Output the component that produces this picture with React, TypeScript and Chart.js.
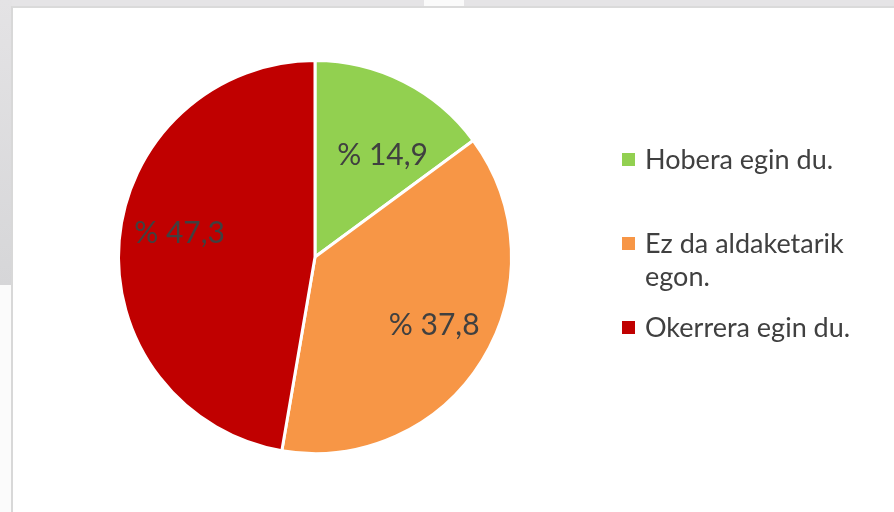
import React, { useEffect, useRef } from "react";
import { Chart, registerables } from "chart.js";

Chart.register(...registerables);

const categories = ["Hobera egin du.", "Ez da aldaketarik egon.", "Okerrera egin du."];
const legendLines = [["Hobera egin du."], ["Ez da aldaketarik", "egon."], ["Okerrera egin du."]];
const values = [14.9, 37.8, 47.3];
const valueLabels = ["% 14,9", "% 37,8", "% 47,3"];
const colors = ["#92d050", "#f79646", "#c00000"];

const FONT = "Lato, 'Open Sans', sans-serif";
const labelRadius = [0.62, 0.7, 0.7];
const labelAngleShift = [0.12, -0.03, 0.09];

const labelPlugin = {
  id: "sliceLabels",
  afterDatasetsDraw(chart: any) {
    const ctx = chart.ctx;
    const meta = chart.getDatasetMeta(0);
    ctx.save();
    ctx.font = `30px ${FONT}`;
    ctx.fillStyle = "#404040";
    ctx.textAlign = "center";
    ctx.textBaseline = "middle";
    meta.data.forEach((arc: any, i: number) => {
      const p = arc.getProps(["x", "y", "startAngle", "endAngle", "outerRadius"], true);
      const mid = (p.startAngle + p.endAngle) / 2 + labelAngleShift[i];
      const r = p.outerRadius * labelRadius[i];
      ctx.fillText(valueLabels[i], p.x + Math.cos(mid) * r, p.y + Math.sin(mid) * r);
    });
    ctx.restore();
  },
};

export default function App() {
  const ref = useRef<HTMLCanvasElement>(null);
  useEffect(() => {
    document.body.style.margin = "0";
    const chart = new Chart(ref.current!, {
      type: "pie",
      data: {
        labels: categories,
        datasets: [
          {
            data: values,
            backgroundColor: colors,
            borderColor: "#ffffff",
            borderWidth: 3,
          },
        ],
      },
      options: {
        responsive: false,
        animation: false,
        layout: { padding: { left: 117, top: 59, right: 381, bottom: 57 } },
        plugins: { legend: { display: false }, tooltip: { enabled: false } },
      },
      plugins: [labelPlugin],
    });
    return () => chart.destroy();
  }, []);

  return (
    <div style={{ position: "fixed", left: 0, top: 0, width: 894, height: 512, background: "#e5e4e6", overflow: "hidden", fontFamily: FONT }}>
      <div style={{ position: "absolute", left: 0, top: 0, width: 12, height: 285, background: "linear-gradient(#e4e3e5, #d6d6d8)" }} />
      <div style={{ position: "absolute", left: 0, top: 285, width: 12, height: 227, background: "#fbfbfb" }} />
      <div style={{ position: "absolute", left: 424, top: 0, width: 40, height: 6, background: "#fafafa" }} />
      <div style={{ position: "absolute", left: 11, top: 6, width: 883, height: 506, background: "#ffffff", borderLeft: "2px solid #d8d8d8", borderTop: "2px solid #dadada", boxSizing: "border-box" }} />
      <canvas ref={ref} width={894} height={512} style={{ position: "absolute", left: 0, top: 0 }} />
      {legendLines.map((lines, i) => {
        const tops = [142, 226, 310];
        return (
          <div key={i} style={{ position: "absolute", left: 622, top: tops[i], color: "#404040", fontSize: 27, lineHeight: "33px" }}>
            <span style={{ position: "absolute", left: 0, top: 11, width: 13, height: 13, background: colors[i] }} />
            <div style={{ marginLeft: 23, whiteSpace: "nowrap" }}>
              {lines.map((l, j) => (
                <div key={j}>{l}</div>
              ))}
            </div>
          </div>
        );
      })}
    </div>
  );
}
